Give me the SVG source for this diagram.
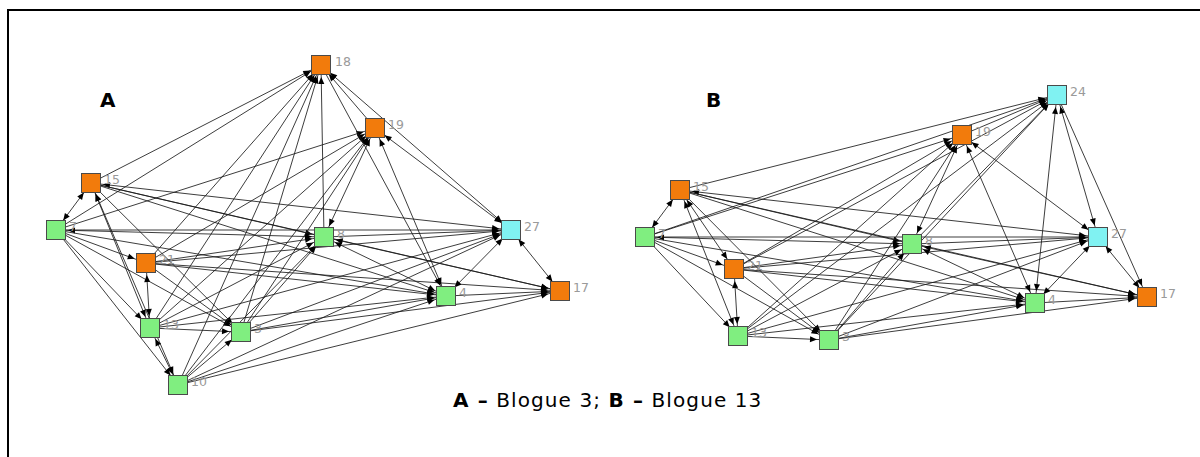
<svg xmlns="http://www.w3.org/2000/svg" width="1200" height="457" viewBox="0 0 1200 457">
<defs>
<style>
.e{stroke:#1a1a1a;stroke-width:0.85;fill:none;marker-end:url(#ah)}
.b{marker-start:url(#ah)}
.n rect{width:19px;height:19px;stroke:#4a4a4a;stroke-width:1}
.o{fill:#f27b0c}
.g{fill:#80ee80}
.c{fill:#80f2f2}
.n text{font-family:"DejaVu Sans","Liberation Sans",sans-serif;font-size:12.5px;fill:#9a9a9a}
.big{font-family:"DejaVu Sans","Liberation Sans",sans-serif;font-size:20px;fill:#000}
.cap{font-family:"DejaVu Sans","Liberation Sans",sans-serif;font-size:20px;letter-spacing:1.1px;fill:#000}
</style>
<marker id="ah" viewBox="0 0 20 8" refX="19" refY="3" markerWidth="20" markerHeight="8" markerUnits="userSpaceOnUse" orient="auto-start-reverse" overflow="visible">
<path d="M0,0 L7,3 L0,6 z" fill="#000"/>
</marker>
</defs>
<rect x="0" y="0" width="1200" height="457" fill="#fff"/>
<path d="M8,457 V10 H1200" fill="none" stroke="#000" stroke-width="2"/>
<text class="big" x="100" y="107" font-weight="bold">A</text>
<text class="big" x="706" y="107" font-weight="bold">B</text>
<g id="connectors">
<!-- Panel A -->
<line class="e b" x1="56" y1="230" x2="91" y2="183"/>
<line class="e" x1="56" y1="230" x2="321" y2="65"/>
<line class="e" x1="56" y1="230" x2="375" y2="128"/>
<line class="e b" x1="56" y1="230" x2="324" y2="237"/>
<line class="e" x1="56" y1="230" x2="511" y2="230"/>
<line class="e" x1="56" y1="230" x2="146" y2="263"/>
<line class="e" x1="56" y1="230" x2="150" y2="328"/>
<line class="e" x1="56" y1="230" x2="178" y2="385"/>
<line class="e" x1="56" y1="230" x2="241" y2="332"/>
<line class="e" x1="56" y1="230" x2="446" y2="296"/>
<line class="e" x1="91" y1="183" x2="321" y2="65"/>
<line class="e" x1="91" y1="183" x2="324" y2="237"/>
<line class="e b" x1="91" y1="183" x2="511" y2="230"/>
<line class="e b" x1="91" y1="183" x2="150" y2="328"/>
<line class="e b" x1="91" y1="183" x2="178" y2="385"/>
<line class="e" x1="91" y1="183" x2="241" y2="332"/>
<line class="e" x1="91" y1="183" x2="446" y2="296"/>
<line class="e" x1="91" y1="183" x2="560" y2="291"/>
<line class="e" x1="146" y1="263" x2="321" y2="65"/>
<line class="e" x1="146" y1="263" x2="375" y2="128"/>
<line class="e b" x1="146" y1="263" x2="150" y2="328"/>
<line class="e" x1="146" y1="263" x2="324" y2="237"/>
<line class="e" x1="146" y1="263" x2="511" y2="230"/>
<line class="e" x1="146" y1="263" x2="446" y2="296"/>
<line class="e" x1="146" y1="263" x2="560" y2="291"/>
<line class="e" x1="146" y1="263" x2="241" y2="332"/>
<line class="e" x1="150" y1="328" x2="321" y2="65"/>
<line class="e" x1="150" y1="328" x2="375" y2="128"/>
<line class="e" x1="150" y1="328" x2="324" y2="237"/>
<line class="e" x1="150" y1="328" x2="241" y2="332"/>
<line class="e" x1="150" y1="328" x2="511" y2="230"/>
<line class="e" x1="150" y1="328" x2="446" y2="296"/>
<line class="e b" x1="150" y1="328" x2="178" y2="385"/>
<line class="e" x1="178" y1="385" x2="321" y2="65"/>
<line class="e" x1="178" y1="385" x2="375" y2="128"/>
<line class="e" x1="178" y1="385" x2="324" y2="237"/>
<line class="e" x1="178" y1="385" x2="241" y2="332"/>
<line class="e" x1="178" y1="385" x2="446" y2="296"/>
<line class="e" x1="178" y1="385" x2="511" y2="230"/>
<line class="e" x1="178" y1="385" x2="560" y2="291"/>
<line class="e" x1="241" y1="332" x2="321" y2="65"/>
<line class="e" x1="241" y1="332" x2="375" y2="128"/>
<line class="e" x1="241" y1="332" x2="324" y2="237"/>
<line class="e" x1="241" y1="332" x2="511" y2="230"/>
<line class="e" x1="241" y1="332" x2="446" y2="296"/>
<line class="e" x1="241" y1="332" x2="560" y2="291"/>
<line class="e" x1="324" y1="237" x2="321" y2="65"/>
<line class="e b" x1="324" y1="237" x2="375" y2="128"/>
<line class="e" x1="324" y1="237" x2="511" y2="230"/>
<line class="e b" x1="324" y1="237" x2="446" y2="296"/>
<line class="e b" x1="324" y1="237" x2="560" y2="291"/>
<line class="e" x1="375" y1="128" x2="321" y2="65"/>
<line class="e b" x1="375" y1="128" x2="511" y2="230"/>
<line class="e b" x1="375" y1="128" x2="446" y2="296"/>
<line class="e b" x1="321" y1="65" x2="511" y2="230"/>
<line class="e" x1="321" y1="65" x2="446" y2="296"/>
<line class="e b" x1="511" y1="230" x2="560" y2="291"/>
<line class="e b" x1="511" y1="230" x2="446" y2="296"/>
<line class="e" x1="446" y1="296" x2="560" y2="291"/>
<!-- Panel B -->
<line class="e b" x1="645" y1="237" x2="680" y2="190"/>
<line class="e" x1="645" y1="237" x2="1057" y2="95"/>
<line class="e" x1="645" y1="237" x2="962" y2="135"/>
<line class="e b" x1="645" y1="237" x2="912" y2="244"/>
<line class="e" x1="645" y1="237" x2="1098" y2="237"/>
<line class="e" x1="645" y1="237" x2="734" y2="269"/>
<line class="e" x1="645" y1="237" x2="738" y2="336"/>
<line class="e" x1="645" y1="237" x2="829" y2="340"/>
<line class="e" x1="645" y1="237" x2="1035" y2="303"/>
<line class="e" x1="680" y1="190" x2="1057" y2="95"/>
<line class="e" x1="680" y1="190" x2="912" y2="244"/>
<line class="e b" x1="680" y1="190" x2="1098" y2="237"/>
<line class="e b" x1="680" y1="190" x2="734" y2="269"/>
<line class="e b" x1="680" y1="190" x2="738" y2="336"/>
<line class="e" x1="680" y1="190" x2="829" y2="340"/>
<line class="e" x1="680" y1="190" x2="1035" y2="303"/>
<line class="e" x1="680" y1="190" x2="1147" y2="297"/>
<line class="e" x1="734" y1="269" x2="1057" y2="95"/>
<line class="e" x1="734" y1="269" x2="962" y2="135"/>
<line class="e b" x1="734" y1="269" x2="738" y2="336"/>
<line class="e" x1="734" y1="269" x2="912" y2="244"/>
<line class="e" x1="734" y1="269" x2="1098" y2="237"/>
<line class="e" x1="734" y1="269" x2="1035" y2="303"/>
<line class="e" x1="734" y1="269" x2="1147" y2="297"/>
<line class="e" x1="734" y1="269" x2="829" y2="340"/>
<line class="e" x1="738" y1="336" x2="1057" y2="95"/>
<line class="e" x1="738" y1="336" x2="962" y2="135"/>
<line class="e" x1="738" y1="336" x2="912" y2="244"/>
<line class="e" x1="738" y1="336" x2="829" y2="340"/>
<line class="e" x1="738" y1="336" x2="1098" y2="237"/>
<line class="e" x1="738" y1="336" x2="1035" y2="303"/>
<line class="e" x1="829" y1="340" x2="1057" y2="95"/>
<line class="e" x1="829" y1="340" x2="962" y2="135"/>
<line class="e" x1="829" y1="340" x2="912" y2="244"/>
<line class="e" x1="829" y1="340" x2="1098" y2="237"/>
<line class="e" x1="829" y1="340" x2="1035" y2="303"/>
<line class="e" x1="829" y1="340" x2="1147" y2="297"/>
<line class="e" x1="912" y1="244" x2="1057" y2="95"/>
<line class="e b" x1="912" y1="244" x2="962" y2="135"/>
<line class="e" x1="912" y1="244" x2="1098" y2="237"/>
<line class="e b" x1="912" y1="244" x2="1035" y2="303"/>
<line class="e b" x1="912" y1="244" x2="1147" y2="297"/>
<line class="e" x1="962" y1="135" x2="1057" y2="95"/>
<line class="e b" x1="962" y1="135" x2="1098" y2="237"/>
<line class="e b" x1="962" y1="135" x2="1035" y2="303"/>
<line class="e b" x1="1057" y1="95" x2="1098" y2="237"/>
<line class="e b" x1="1057" y1="95" x2="1035" y2="303"/>
<line class="e" x1="1057" y1="95" x2="1147" y2="297"/>
<line class="e b" x1="1098" y1="237" x2="1147" y2="297"/>
<line class="e b" x1="1098" y1="237" x2="1035" y2="303"/>
<line class="e" x1="1035" y1="303" x2="1147" y2="297"/>
</g>
<!-- Panel A nodes -->
<g id="a18" class="n"><rect class="o" x="311.5" y="55.5"/><text x="335" y="66">18</text></g>
<g id="a19" class="n"><rect class="o" x="365.5" y="118.5"/><text x="388" y="129">19</text></g>
<g id="a15" class="n"><rect class="o" x="81.5" y="173.5"/><text x="104" y="184">15</text></g>
<g id="a7" class="n"><rect class="g" x="46.5" y="220.5"/><text x="69" y="231">7</text></g>
<g id="a8" class="n"><rect class="g" x="314.5" y="227.5"/><text x="337" y="238">8</text></g>
<g id="a27" class="n"><rect class="c" x="501.5" y="220.5"/><text x="524" y="231">27</text></g>
<g id="a21" class="n"><rect class="o" x="136.5" y="253.5"/><text x="159" y="264">21</text></g>
<g id="a13" class="n"><rect class="g" x="140.5" y="318.5"/><text x="163" y="329">13</text></g>
<g id="a3" class="n"><rect class="g" x="231.5" y="322.5"/><text x="254" y="333">3</text></g>
<g id="a10" class="n"><rect class="g" x="168.5" y="375.5"/><text x="191" y="386">10</text></g>
<g id="a4" class="n"><rect class="g" x="436.5" y="286.5"/><text x="459" y="297">4</text></g>
<g id="a17" class="n"><rect class="o" x="550.5" y="281.5"/><text x="573" y="292">17</text></g>
<!-- Panel B nodes -->
<g id="b24" class="n"><rect class="c" x="1047.5" y="85.5"/><text x="1070" y="96">24</text></g>
<g id="b19" class="n"><rect class="o" x="952.5" y="125.5"/><text x="975" y="136">19</text></g>
<g id="b15" class="n"><rect class="o" x="670.5" y="180.5"/><text x="693" y="191">15</text></g>
<g id="b7" class="n"><rect class="g" x="635.5" y="227.5"/><text x="658" y="238">7</text></g>
<g id="b8" class="n"><rect class="g" x="902.5" y="234.5"/><text x="925" y="245">8</text></g>
<g id="b27" class="n"><rect class="c" x="1088.5" y="227.5"/><text x="1111" y="238">27</text></g>
<g id="b21" class="n"><rect class="o" x="724.5" y="259.5"/><text x="747" y="270">21</text></g>
<g id="b13" class="n"><rect class="g" x="728.5" y="326.5"/><text x="751" y="337">13</text></g>
<g id="b3" class="n"><rect class="g" x="819.5" y="330.5"/><text x="842" y="341">3</text></g>
<g id="b4" class="n"><rect class="g" x="1025.5" y="293.5"/><text x="1048" y="304">4</text></g>
<g id="b17" class="n"><rect class="o" x="1137.5" y="287.5"/><text x="1160" y="298">17</text></g>
<text class="cap" x="453" y="407"><tspan font-weight="bold">A –</tspan> Blogue 3; <tspan font-weight="bold">B –</tspan> Blogue 13</text>
</svg>
